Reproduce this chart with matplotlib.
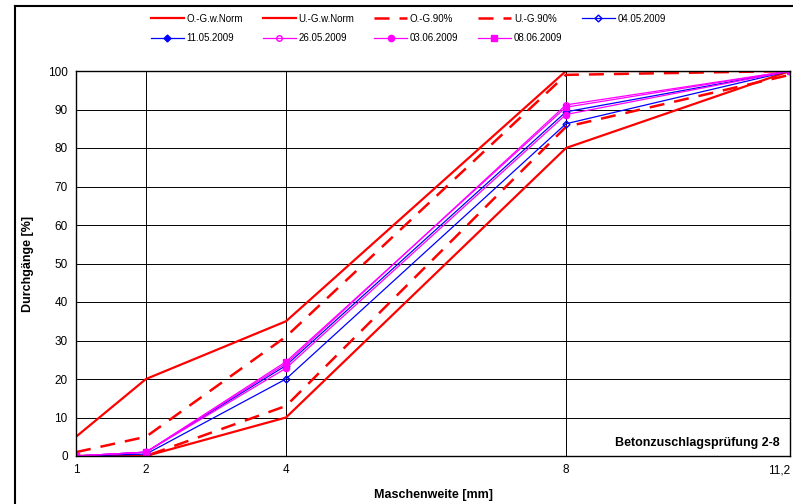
import matplotlib
matplotlib.use('Agg')
import matplotlib.pyplot as plt
from matplotlib.lines import Line2D

plt.rcParams['font.family'] = ['Liberation Sans', 'DejaVu Sans']

# sieve sizes [mm]
x = [1, 2, 4, 8, 11.2]
x_labels = ['1', '2', '4', '8', '11,2']

og_norm = [5, 20, 35, 100, 100]
ug_norm = [0, 0, 10, 80, 100]
og_90 = [1, 5, 31, 99, 100]
ug_90 = [0, 0, 13, 85.5, 99]

d_0405 = [0, 0.5, 20, 86.3, 100]
d_1105 = [0, 1, 23.5, 89.4, 100]
d_2605 = [0, 1, 24, 91.2, 100]
d_0306 = [0, 1, 22.8, 88.7, 100]
d_0806 = [0, 1, 24.5, 90.6, 100]

fig = plt.figure(figsize=(7.93, 5.04), dpi=100)
ax = fig.add_axes([76/793, 1-456/504, (790-76)/793, (456-71)/504])

h = []
h += ax.plot(x, og_norm, color='red', lw=1.6, label='O.-G.w.Norm')
h += ax.plot(x, ug_norm, color='red', lw=1.6, label='U.-G.w.Norm')
h += ax.plot(x, og_90, color='red', lw=1.8, ls=(0, (6, 4)), label='O.-G.90%')
h += ax.plot(x, ug_90, color='red', lw=1.8, ls=(0, (6, 4)), label='U.-G.90%')
h += ax.plot(x, d_0405, color='blue', lw=0.9, marker='D', ms=3.5, mfc='none', mew=1, label='04.05.2009')
h += ax.plot(x, d_1105, color='blue', lw=0.9, marker='D', ms=3.5, label='11.05.2009')
h += ax.plot(x, d_2605, color='magenta', lw=0.9, marker='o', ms=4, mfc='none', mew=1, label='26.05.2009')
h += ax.plot(x, d_0306, color='magenta', lw=0.9, marker='o', ms=4.5, label='03.06.2009')
h += ax.plot(x, d_0806, color='magenta', lw=0.9, marker='s', ms=4.5, label='08.06.2009')

ax.set_xlim(1, 11.2)
ax.set_ylim(0, 100)
ax.set_xticks(x)
ax.set_xticklabels(x_labels)
ax.get_xticklabels()[-1].set_horizontalalignment('right')
ax.set_yticks(range(0, 101, 10))
ax.tick_params(length=0, labelsize=8.5, pad=6)
ax.grid(True, color='black', lw=0.7)
ax.set_axisbelow(True)
for s in ax.spines.values():
    s.set_linewidth(1)
ax.set_xlabel('Maschenweite [mm]', fontsize=9, fontweight='bold', labelpad=9)
ax.set_ylabel('Durchgänge [%]', fontsize=9, fontweight='bold', labelpad=10)

ax.text(0.985, 0.018, 'Betonzuschlagsprüfung 2-8', transform=ax.transAxes,
        ha='right', va='bottom', fontsize=9, fontweight='bold')

# legend filled row-wise
order = [0, 5, 1, 6, 2, 7, 3, 8, 4]
fig.legend([h[i] for i in order], [h[i].get_label() for i in order],
           ncol=5, loc='upper left', bbox_to_anchor=(144/793, 1-7/504),
           frameon=False, fontsize=7, handlelength=3.4, handletextpad=0.3,
           columnspacing=2.0, labelspacing=0.95, borderpad=0.2)

# chart area border
fig.add_artist(Line2D([15/793, 15/793], [0, 1-6/504], color='black', lw=1.5, transform=fig.transFigure))
fig.add_artist(Line2D([15/793, 1], [1-6/504, 1-6/504], color='black', lw=1.5, transform=fig.transFigure))

fig.savefig('out.png', dpi=100)
